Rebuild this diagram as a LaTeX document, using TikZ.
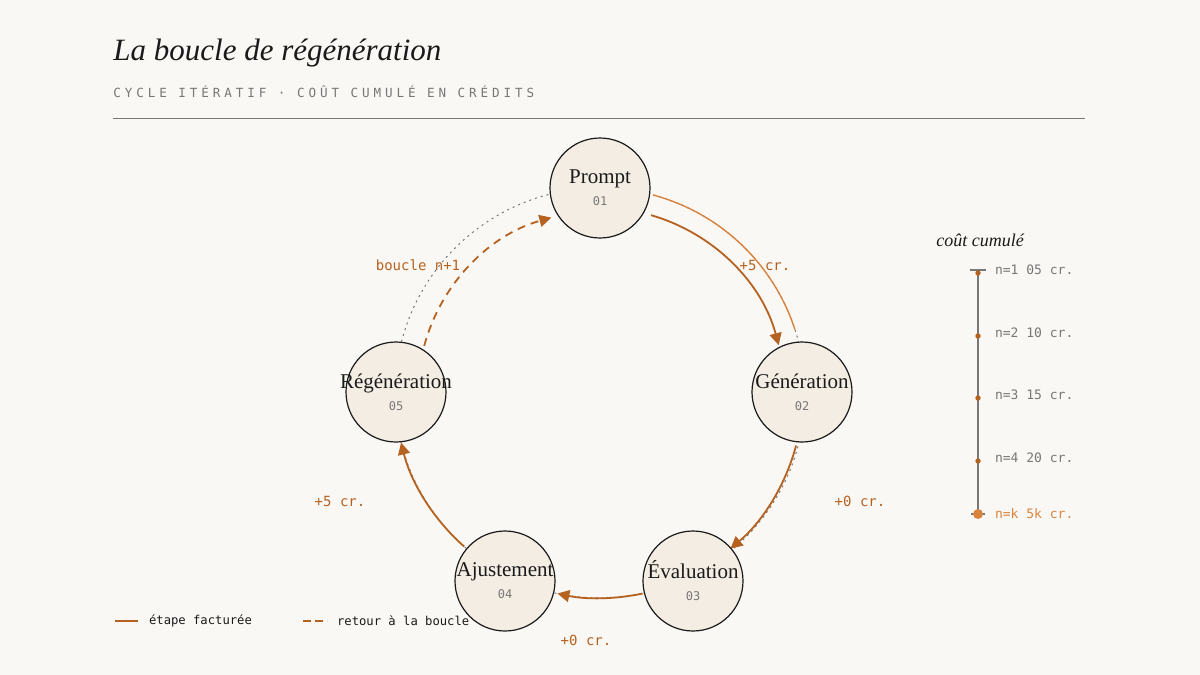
\documentclass[tikz,border=0pt]{standalone}
\usepackage{fontspec}
\setmainfont{Liberation Serif}
\setmonofont{DejaVu Sans Mono}
\newfontfamily\spaced{DejaVu Sans Mono}[LetterSpace=31]
\usetikzlibrary{arrows.meta}
\definecolor{bg}{HTML}{FAF8F4}
\definecolor{nfill}{HTML}{F4EDE3}
\definecolor{dk}{HTML}{B5611F}
\definecolor{lt}{HTML}{D9843E}
\definecolor{gr}{HTML}{777777}
\definecolor{ink}{HTML}{1A1A1A}
\begin{document}
\begin{tikzpicture}[x=0.5pt,y=-0.5pt,
  stage/.style={circle,draw=ink,line width=0.6pt,fill=nfill,minimum size=50pt,inner sep=0pt},
  stxt/.style={align=center,inner sep=0pt,font=\fontsize{10.5}{12}\selectfont,text=ink},
  flow/.style={dk,line width=0.9pt,-{Triangle[length=6pt,width=6pt]}},
  lab/.style={text=dk,font=\ttfamily\fontsize{7}{8}\selectfont},
  sc/.style={text=gr,font=\ttfamily\fontsize{6.5}{8}\selectfont,anchor=west}]
\fill[bg] (0,0) rectangle (1200,675);
\useasboundingbox (0,0) rectangle (1200,675);
\node[anchor=west,inner sep=0pt,font=\itshape\fontsize{15.5}{18}\selectfont,text=ink] (title) at (113,53) {La boucle de régénération};
\node[anchor=west,inner sep=0pt,text=gr,font=\spaced\fontsize{6.3}{8}\selectfont] (sub) at (113,92) {CYCLE ITÉRATIF · COÛT CUMULÉ EN CRÉDITS};
\draw[gr,line width=0.5pt] (113,118) coordinate (r1) -- (1085,118) coordinate (r2);
% ring
\coordinate (c) at (600,393);
\draw[gr,line width=0.5pt,dash pattern=on 1pt off 2pt] (c) circle[radius=205];
\draw[lt,line width=0.7pt] ([shift={(-75:205)}]c) arc[start angle=-75,end angle=-18,radius=205];
% arrows
\draw[flow] ([shift={(-74:185)}]c) arc[start angle=-74,end angle=-15,radius=185];
\draw[flow] ([shift={(15:203)}]c) arc[start angle=15,end angle=50,radius=203];
\draw[flow] ([shift={(78:205)}]c) arc[start angle=78,end angle=102,radius=205];
\draw[flow] ([shift={(131.5:205)}]c) arc[start angle=131.5,end angle=166,radius=205];
\draw[flow,dash pattern=on 4pt off 3pt] ([shift={(-165:182)}]c) arc[start angle=-165,end angle=-105.5,radius=182];
% nodes
\def\st#1#2{#1\\[-1pt]{\ttfamily\fontsize{6}{7}\selectfont\color{gr}#2}}
\node[stage] (p) at (600,188) {};
\node[stage] (g) at (802,392) {};
\node[stage] (e) at (693,581) {};
\node[stage] (a) at (505,581) {};
\node[stage] (r) at (396,392) {};
\node[stxt] (pt) at (p) {\st{Prompt}{01}};
\node[stxt] (gt) at (g) {\st{Génération}{02}};
\node[stxt] (et) at (e) {\st{Évaluation}{03}};
\node[stxt] (at) at (a) {\st{Ajustement}{04}};
\node[stxt] (rt) at (r) {\st{Régénération}{05}};
% labels
\node[lab] (l1) at (765,265) {+5 cr.};
\node[lab] (l2) at (860,501) {+0 cr.};
\node[lab] (l3) at (586,640) {+0 cr.};
\node[lab] (l4) at (340,501) {+5 cr.};
\node[lab] (l5) at (418,265) {boucle n+1};
% legend
\draw[dk,line width=1pt] (115,621) coordinate (g1) -- (138,621) coordinate (g2);
\node[anchor=west,text=ink,font=\ttfamily\fontsize{6.1}{8}\selectfont] (lg1) at (142,621) {étape facturée};
\draw[dk,line width=1pt,dash pattern=on 4pt off 2pt] (303,621) coordinate (g3) -- (327,621) coordinate (g4);
\node[anchor=west,text=ink,font=\ttfamily\fontsize{6.1}{8}\selectfont] (lg2) at (330,621) {retour à la boucle};
% scale
\node[font=\itshape\fontsize{9}{10}\selectfont,text=ink] (st) at (980,240) {coût cumulé};
\draw[gr,line width=1pt] (978,270) coordinate (s0) -- (978,514) coordinate (s1);
\draw[gr,line width=1pt] (970,270) -- (986,270);
\draw[gr,line width=1pt] (971,514) -- (985,514);
\foreach \y/\t in {273/{n=1 05 cr.},336/{n=2 10 cr.},398/{n=3 15 cr.},461/{n=4 20 cr.}}{
  \fill[dk] (978,\y) circle[radius=2.7];
  \node[sc] at (988,\y-3) {\t};
}
\fill[lt] (978,514) circle[radius=5];
\node[sc,text=lt] (sk) at (988,514) {n=k 5k cr.};
\end{tikzpicture}
\end{document}
